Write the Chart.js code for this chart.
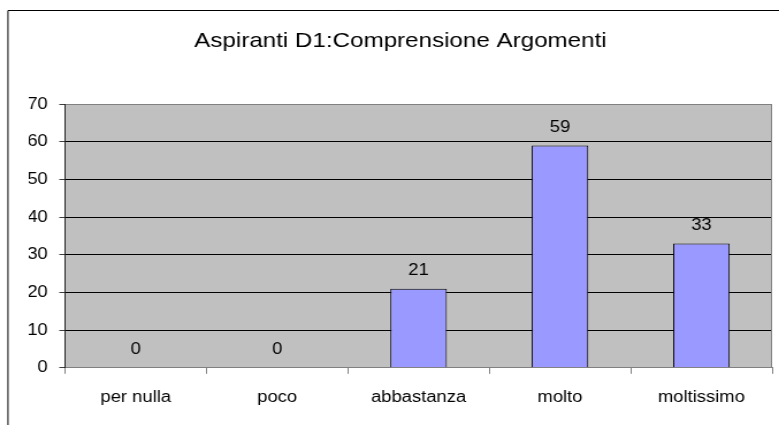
<!DOCTYPE html>
<html>
<head>
<meta charset="utf-8">
<title>Aspiranti D1:Comprensione Argomenti</title>
<script src="https://cdn.jsdelivr.net/npm/chart.js@4.4.0/dist/chart.umd.min.js"></script>
<style>
    html, body { margin: 0; padding: 0; background: #ffffff; overflow: hidden; }
    /* the original picture is stretched sideways, so the whole chart is too */
    #wrap { width: 677px; height: 425px; transform: scaleX(1.1507); transform-origin: 0 0; }
</style>
</head>
<body>
<div id="wrap"><canvas id="chart" width="677" height="425"></canvas></div>
<script>
// ============================================
// DATA
// ============================================
const chartTitle = 'Aspiranti D1:Comprensione Argomenti';
const categories = ['per nulla', 'poco', 'abbastanza', 'molto', 'moltissimo'];
const values = [0, 0, 21, 59, 33];
const yTicks = [0, 10, 20, 30, 40, 50, 60, 70];

const FONT = "'Liberation Sans', Arial, sans-serif";

// ============================================
// PLUGIN - frame, grey plot area, value labels
// ============================================
const excelLook = {
    id: 'excelLook',
    beforeDraw(chart) {
        const { ctx, chartArea: a } = chart;
        ctx.save();
        ctx.fillStyle = '#c0c0c0';
        ctx.fillRect(a.left, a.top, a.right - a.left, a.bottom - a.top);
        // outer frame (only top and left edges are in the picture)
        ctx.strokeStyle = '#000000';
        ctx.lineWidth = 1;
        ctx.beginPath();
        ctx.moveTo(6.95, chart.height);
        ctx.lineTo(6.95, 10.5);
        ctx.lineTo(chart.width, 10.5);
        ctx.stroke();
        ctx.restore();
    },
    beforeDatasetsDraw(chart) {
        const { ctx, chartArea: a } = chart;
        ctx.save();
        ctx.strokeStyle = '#808080';
        ctx.lineWidth = 1;
        ctx.beginPath();
        ctx.moveTo(a.right - 0.5, a.top);
        ctx.lineTo(a.right - 0.5, a.bottom);
        ctx.stroke();
        ctx.restore();
    },
    afterDatasetsDraw(chart) {
        const { ctx } = chart;
        const meta = chart.getDatasetMeta(0);
        ctx.save();
        ctx.fillStyle = '#000000';
        ctx.font = '16px ' + FONT;
        ctx.textAlign = 'center';
        ctx.textBaseline = 'middle';
        meta.data.forEach((bar, i) => {
            ctx.fillText(String(values[i]), bar.x, bar.y - 18);
        });
        ctx.restore();
    }
};

// ============================================
// CHART
// ============================================
const ctx = document.getElementById('chart').getContext('2d');

new Chart(ctx, {
    type: 'bar',
    data: {
        labels: categories,
        datasets: [{
            data: values,
            backgroundColor: '#9999ff',
            borderColor: '#000000',
            borderWidth: 1,
            barPercentage: 0.4,
            categoryPercentage: 1
        }]
    },
    options: {
        responsive: false,
        animation: false,
        layout: {
            padding: { left: 25, right: 6, top: 0, bottom: 4 }
        },
        plugins: {
            legend: { display: false },
            tooltip: { enabled: false },
            title: {
                display: true,
                text: chartTitle,
                color: '#000000',
                font: { family: FONT, size: 21, weight: 'normal' },
                padding: { top: 29, bottom: 50 }
            }
        },
        scales: {
            x: {
                grid: {
                    drawOnChartArea: false,
                    tickLength: 6,
                    tickColor: '#808080'
                },
                border: { color: '#808080' },
                ticks: {
                    color: '#000000',
                    padding: 14,
                    maxRotation: 0,
                    font: { family: FONT, size: 16 }
                }
            },
            y: {
                min: 0,
                max: 70,
                afterFit: (scale) => { scale.width = 31.5; },
                afterBuildTicks: (scale) => {
                    scale.ticks = yTicks.map(v => ({ value: v }));
                },
                grid: {
                    color: (c) => (c.tick && (c.tick.value === 70 || c.tick.value === 0)) ? '#808080' : '#000000',
                    tickLength: 5,
                    tickColor: '#404040'
                },
                border: { color: '#202020' },
                ticks: {
                    color: '#000000',
                    padding: 10,
                    font: { family: FONT, size: 16 }
                }
            }
        }
    },
    plugins: [excelLook]
});
</script>
</body>
</html>
